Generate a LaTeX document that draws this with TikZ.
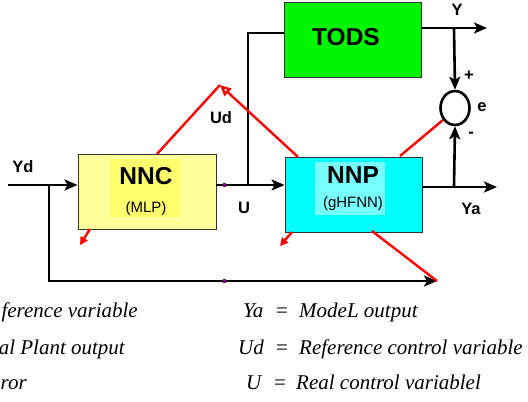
\documentclass[tikz,border=0pt]{standalone}
\usepackage{fontspec}
\setmainfont{Liberation Serif}
\newfontfamily\arialf{Liberation Sans}
\newfontfamily\timesit{Liberation Serif Italic}
\usetikzlibrary{arrows.meta,shapes.geometric}
\definecolor{todsgreen}{RGB}{0,245,0}
\definecolor{nncfill}{RGB}{255,255,153}
\definecolor{nnchl}{RGB}{255,255,110}
\definecolor{nnpfill}{RGB}{0,255,255}
\definecolor{nnphl}{RGB}{120,255,255}
\definecolor{boxline}{RGB}{50,50,50}
\definecolor{redline}{RGB}{255,0,0}
\tikzset{
  blockbox/.style={draw=boxline,line width=0.9pt,minimum width=137pt,minimum height=75pt,inner sep=0pt},
  sig/.style={line width=2.6pt,black},
  sigarrow/.style={sig,-{Stealth[length=13pt,width=11pt,inset=3pt]}},
  redl/.style={line width=2.4pt,redline},
  lbl/.style={font=\arialf\bfseries\fontsize{16.5}{18}\selectfont,inner sep=0pt},
  bigt/.style={font=\arialf\bfseries\fontsize{24.5}{26}\selectfont,inner sep=0pt},
  smallt/.style={font=\arialf\fontsize{15}{17}\selectfont,inner sep=0pt},
  legit/.style={font=\timesit\fontsize{21}{24}\selectfont,inner sep=0pt,anchor=base west},
  legeq/.style={font=\fontsize{21}{24}\selectfont,inner sep=0pt,anchor=base west}
}
\begin{document}
\begin{tikzpicture}[x=1pt,y=-1pt]
\useasboundingbox (0,0) rectangle (528,402);
% blocks
\node[blockbox,fill=todsgreen] (tods) at (352.5,39.5) {};
\node[blockbox,fill=nncfill,minimum width=138pt] (nnc) at (147,191.5) {};
\node[blockbox,fill=nnpfill] (nnp) at (353.5,194.5) {};
\fill[nnchl] (110,159) rectangle (180,217);
\fill[nnphl] (315,162) rectangle (385,215);
\node[bigt] (todst) at (346,37) {TODS};
\node[bigt] (nnct) at (146,176) {NNC};
\node[smallt] (nncs) at (146,209) {(MLP)};
\node[bigt] (nnpt) at (353,175) {NNP};
\node[smallt] (nnps) at (353,204) {(gHFNN)};
% summing junction
\node[draw,ellipse,line width=2.6pt,minimum width=29pt,minimum height=34pt,inner sep=0pt] (sum) at (455,108) {};
% coordinates
\coordinate (ydin) at (8,185);
\coordinate (j1) at (49,185);
\coordinate (j1b) at (49,281);
\coordinate (fbend) at (437,281);
\coordinate (uj) at (248,185);
\coordinate (ut) at (248,33);
\coordinate (yout) at (487,28);
\coordinate (yj) at (454,28);
\coordinate (yaout) at (497,187);
\coordinate (yaj) at (454,187);
\coordinate (apex) at (220,85);
% black signals
\draw[sigarrow] (ydin) -- (nnc.west |- ydin);
\draw[sigarrow] (j1) -- (j1b) -- (fbend);
\draw[sigarrow] (nnc.east |- uj) -- (nnp.west |- uj);
\draw[sig] (uj) -- (ut) -- (tods.west |- ut);
\draw[sigarrow] (tods.east |- yout) -- (yout);
\draw[sigarrow] (yj) -- (sum.north);
\draw[sigarrow] (nnp.east |- yaout) -- (yaout);
\draw[sigarrow] (yaj) -- (sum.south);
% purple marks
\fill[violet] (223,183) rectangle (225.5,187);
\fill[violet] (223,279) rectangle (225.5,283);
% red lines
\draw[redl] (157,154) -- (apex);
\draw[redl,-{Triangle[open,length=11pt,width=10pt]}] (298,157) -- (apex);
\draw[redl] (sum.225) -- (400,156);
\draw[redl] (372,231) -- (fbend);
\draw[redl,-{Triangle[length=8pt,width=8pt]}] (90,229) -- (80,245);
\draw[redl,-{Triangle[length=8pt,width=8pt]}] (292,232) -- (280,246);
% labels
\node[lbl] (lyd) at (23,167) {Yd};
\node[lbl] (lud) at (221,118) {Ud};
\node[lbl] (lu) at (244,208) {U};
\node[lbl] (ly) at (457,10) {Y};
\node[lbl] (lya) at (471,209) {Ya};
\node[lbl] (lplus) at (469,76) {+};
\node[lbl] (le) at (482,107) {e};
\node[lbl] (lminus) at (471,135) {-};
% legend
\node[font=\timesit\fontsize{21}{24}\selectfont,inner sep=0pt,anchor=base east] (l1) at (138,317) {ference variable};
\node[font=\timesit\fontsize{21}{24}\selectfont,inner sep=0pt,anchor=base east] (l2) at (125,354) {al Plant output};
\node[font=\timesit\fontsize{21}{24}\selectfont,inner sep=0pt,anchor=base west] (l3) at (0.5,389) {ror};
\node[legit] (r1a) at (243,317) {Ya};
\node[legeq] (r1b) at (276,317) {=};
\node[legit] (r1c) at (299,317) {ModeL output};
\node[legit] (r2a) at (238,354) {Ud};
\node[legeq] (r2b) at (276,354) {=};
\node[legit] (r2c) at (299,354) {Reference control variable};
\node[legit] (r3a) at (246,389) {U};
\node[legeq] (r3b) at (274,389) {=};
\node[legit] (r3c) at (296,389) {Real control variablel};
\end{tikzpicture}
\end{document}
